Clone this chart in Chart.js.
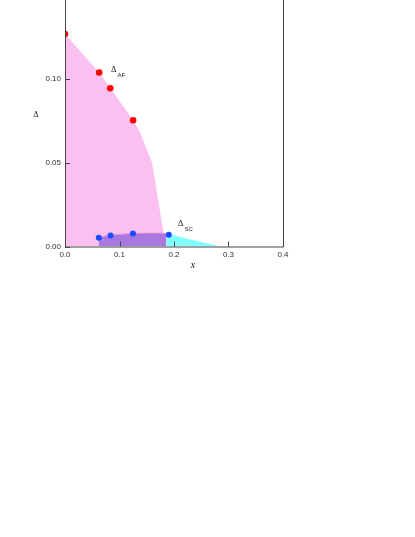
<!DOCTYPE html>
<html>
<head>
<meta charset="utf-8">
<script src="https://cdn.jsdelivr.net/npm/chart.js@4/dist/chart.umd.min.js"></script>
<style>
  html, body { margin: 0; padding: 0; background: #fff; }
  canvas { display: block; }
</style>
</head>
<body>
<canvas id="gap-chart" width="415" height="537"></canvas>
<script>
// AF gap: measured points and the shaded region outline
const afPointsX = [0.0, 0.0627, 0.083, 0.125];
const afPointsY = [0.127, 0.104, 0.0946, 0.0754];
const afAreaX = [0.0, 0.0627, 0.083, 0.125, 0.138, 0.160, 0.181, 0.186];
const afAreaY = [0.127, 0.104, 0.0946, 0.0754, 0.068, 0.0497, 0.0078, 0.0];

// SC gap: measured points, overlap region (under AF) and the part beyond it
const scPointsX = [0.062, 0.0836, 0.1247, 0.1905];
const scPointsY = [0.0052, 0.0066, 0.0078, 0.0070];
const scOverlapX = [0.062, 0.0836, 0.125, 0.160, 0.186];
const scOverlapY = [0.0055, 0.0068, 0.0078, 0.0080, 0.0078];
const scTailX = [0.186, 0.200, 0.224, 0.286];
const scTailY = [0.0077, 0.0068, 0.0046, 0.0];

const xTicks = [0.0, 0.1, 0.2, 0.3, 0.4];
const yTicks = [0.0, 0.05, 0.10];

function zip(xs, ys) {
  return xs.map((x, i) => ({ x: x, y: ys[i] }));
}

const frameColor = "#444";

// frame (left/right/bottom, top is cut off), inside tick marks and labels
const decorations = {
  id: "decorations",
  afterDatasetsDraw(chart) {
    const { ctx, chartArea: a, scales: { x, y } } = chart;
    ctx.save();
    ctx.strokeStyle = frameColor;
    ctx.lineWidth = 1;
    ctx.beginPath();
    ctx.moveTo(a.left + 0.5, 0);
    ctx.lineTo(a.left + 0.5, a.bottom + 0.5);
    ctx.lineTo(a.right + 0.5, a.bottom + 0.5);
    ctx.lineTo(a.right + 0.5, 0);
    xTicks.forEach((v) => {
      const px = Math.round(x.getPixelForValue(v)) + 0.5;
      ctx.moveTo(px, a.bottom);
      ctx.lineTo(px, a.bottom - 5);
    });
    yTicks.forEach((v) => {
      const py = Math.round(y.getPixelForValue(v)) + 0.5;
      ctx.moveTo(a.left, py);
      ctx.lineTo(a.left + 5, py);
    });
    ctx.stroke();

    ctx.fillStyle = "#222";
    ctx.textBaseline = "middle";
    ctx.textAlign = "left";
    const label = (vx, vy, sub) => {
      const px = x.getPixelForValue(vx);
      const py = y.getPixelForValue(vy);
      ctx.font = "8.5px 'Liberation Serif'";
      ctx.fillText("\u0394", px, py);
      const w = ctx.measureText("\u0394").width;
      ctx.font = "6px 'Liberation Sans'";
      ctx.fillText(sub, px + w + 1, py + 5);
    };
    label(0.0845, 0.1055, "AF");
    label(0.2075, 0.0135, "SC");

    // axis titles
    ctx.textAlign = "center";
    ctx.font = "8.5px 'Liberation Serif'";
    ctx.fillText("\u0394", 36, y.getPixelForValue(0.0785));
    ctx.font = "italic 10px 'Liberation Serif'";
    ctx.fillText("x", x.getPixelForValue(0.235), a.bottom + 19);
    ctx.restore();
  }
};

const config = {
  type: "line",
  data: {
    datasets: [
      {
        label: "AF points",
        type: "scatter",
        data: zip(afPointsX, afPointsY),
        backgroundColor: "#ff0000",
        borderColor: "#ff0000",
        pointRadius: 3.3,
        borderWidth: 0,
        order: 0,
      },
      {
        label: "SC points",
        type: "scatter",
        data: zip(scPointsX, scPointsY),
        backgroundColor: "#1a4cff",
        borderColor: "#1a4cff",
        pointRadius: 3,
        borderWidth: 0,
        order: 0,
      },
      {
        label: "SC overlap",
        data: zip(scOverlapX, scOverlapY),
        backgroundColor: "#a878e0",
        borderColor: "#e68ad6",
        borderWidth: 1,
        pointRadius: 0,
        fill: "origin",
        order: 1,
      },
      {
        label: "SC tail",
        data: zip(scTailX, scTailY),
        backgroundColor: "#80ffff",
        borderColor: "rgba(0,0,0,0)",
        borderWidth: 0,
        pointRadius: 0,
        fill: "origin",
        order: 2,
      },
      {
        label: "AF area",
        data: zip(afAreaX, afAreaY),
        backgroundColor: "#fcc0f0",
        borderColor: "rgba(0,0,0,0)",
        borderWidth: 0,
        pointRadius: 0,
        fill: "origin",
        tension: 0,
        order: 3,
      },
    ],
  },
  options: {
    responsive: false,
    animation: false,
    layout: { padding: { top: 0, right: 132, left: 0, bottom: 0 } },
    plugins: {
      legend: { display: false },
      tooltip: { enabled: false },
    },
    scales: {
      x: {
        type: "linear",
        min: 0,
        max: 0.4,
        grid: { display: false, drawTicks: false },
        border: { display: false },
        afterBuildTicks: (s) => { s.ticks = xTicks.map((v) => ({ value: v })); },
        afterFit: (s) => {
          s.height = 290.5;
          s.paddingLeft = 0;
          s.paddingRight = 0;
        },
        ticks: {
          padding: 3,
          color: "#333",
          font: { family: "'Liberation Sans'", size: 8 },
          callback: (v) => v.toFixed(1),
        },
      },
      y: {
        type: "linear",
        min: 0,
        max: 0.1449,
        grid: { display: false, drawTicks: false },
        border: { display: false },
        afterBuildTicks: (s) => { s.ticks = yTicks.map((v) => ({ value: v })); },
        afterFit: (s) => {
          s.width = 65;
          s.paddingTop = 0;
          s.paddingBottom = 0;
        },
        ticks: {
          padding: 4,
          color: "#333",
          font: { family: "'Liberation Sans'", size: 8 },
          callback: (v) => v.toFixed(2),
        },
      },
    },
  },
  plugins: [decorations],
};

const ctx = document.getElementById("gap-chart").getContext("2d");
window.gapChart = new Chart(ctx, config);
</script>
</body>
</html>
